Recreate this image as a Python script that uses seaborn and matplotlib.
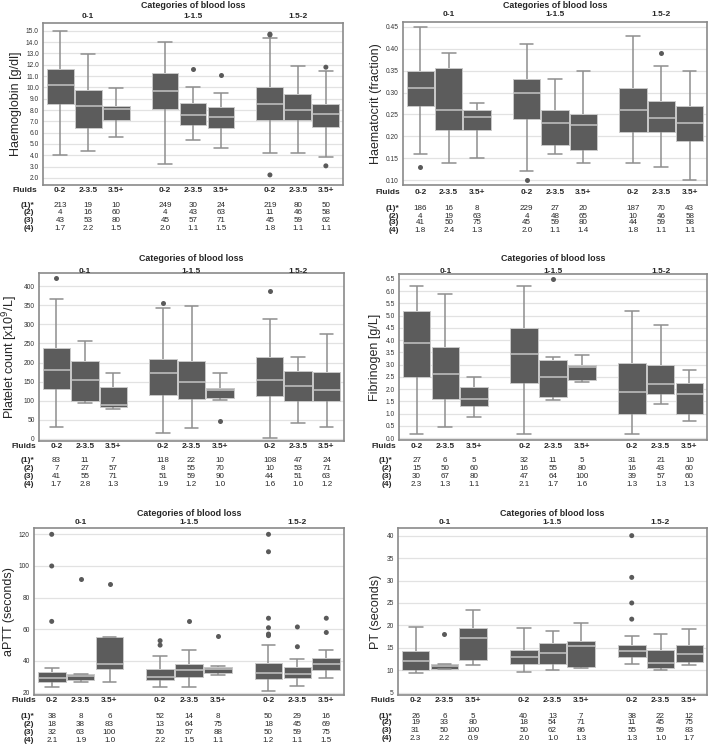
import numpy as np
import pandas as pd
import matplotlib
matplotlib.use("Agg")
import matplotlib.pyplot as plt
import matplotlib.transforms as mtransforms
import seaborn as sns

loss_cats = ["0-1", "1-1.5", "1.5-2"]
fluid_cats = ["0-2", "2-3.5", "3.5+"]
row_labels = ["(1)*", "(2)", "(3)", "(4)"]

# Haemoglobin
hb_low = [4.0, 4.36, 5.64, 3.21, 5.34, 4.63, 4.19, 4.19, 3.89]
hb_q1 = [8.56, 6.43, 7.1, 8.06, 6.67, 6.43, 7.1, 7.1, 6.46]
hb_med = [10.2, 8.38, 8.12, 9.68, 7.58, 7.38, 8.53, 8.0, 7.61]
hb_q3 = [11.6, 9.74, 8.35, 11.3, 8.62, 8.29, 10.0, 9.45, 8.56]
hb_high = [15.0, 12.9, 9.92, 14.0, 10.0, 9.53, 14.38, 11.9, 11.45]
hb_out = [[], [], [], [], [11.6], [11.13], [14.7, 14.62, 2.27], [], [11.78, 3.07]]
hb_table = [["213", "19", "10", "249", "30", "24", "219", "80", "50"],
            ["4", "16", "60", "4", "43", "63", "11", "46", "58"],
            ["43", "53", "80", "45", "57", "71", "45", "59", "62"],
            ["1.7", "2.2", "1.5", "2.0", "1.1", "1.5", "1.8", "1.1", "1.1"]]

# Haematocrit
hct_low = [0.16, 0.14, 0.15, 0.12, 0.16, 0.14, 0.14, 0.13, 0.10]
hct_q1 = [0.27, 0.215, 0.215, 0.24, 0.18, 0.17, 0.21, 0.21, 0.19]
hct_med = [0.311, 0.261, 0.244, 0.298, 0.23, 0.225, 0.261, 0.241, 0.23]
hct_q3 = [0.35, 0.355, 0.26, 0.33, 0.26, 0.25, 0.31, 0.28, 0.27]
hct_high = [0.45, 0.39, 0.275, 0.41, 0.33, 0.35, 0.43, 0.36, 0.35]
hct_out = [[0.13], [], [], [0.10], [], [], [], [0.39], []]
hct_table = [["186", "16", "8", "229", "27", "20", "187", "70", "43"],
             ["4", "19", "63", "4", "48", "65", "10", "46", "58"],
             ["41", "50", "75", "45", "59", "80", "44", "59", "58"],
             ["1.8", "2.4", "1.3", "2.0", "1.1", "1.4", "1.8", "1.1", "1.1"]]

# Platelet count
plt_low = [30, 93, 77, 14, 27, 101, 2, 40, 30]
plt_q1 = [130, 99, 84, 115, 105, 107, 111, 100, 99]
plt_med = [181, 153, 88, 173, 148, 127, 153, 138, 129]
plt_q3 = [239, 205, 135, 209, 205, 134, 214, 177, 175]
plt_high = [366, 256, 173, 343, 348, 172, 313, 214, 274]
plt_out = [[421], [], [], [357], [], [46], [388], [], []]
plt_table = [["83", "11", "7", "118", "22", "10", "108", "47", "24"],
             ["7", "27", "57", "8", "55", "70", "10", "53", "71"],
             ["41", "55", "71", "51", "59", "90", "44", "51", "63"],
             ["1.7", "2.8", "1.3", "1.9", "1.2", "1.0", "1.6", "1.0", "1.2"]]

# Fibrinogen
fib_low = [0.18, 0.44, 0.84, 0.18, 1.57, 2.3, 0.18, 1.4, 0.7]
fib_q1 = [2.5, 1.59, 1.29, 2.24, 1.68, 2.37, 1.0, 1.79, 1.0]
fib_med = [3.88, 2.6, 1.6, 3.44, 2.5, 2.9, 1.9, 2.19, 1.8]
fib_q3 = [5.2, 3.7, 2.1, 4.5, 3.2, 3.0, 3.06, 3.0, 2.25]
fib_high = [6.2, 5.9, 2.5, 6.2, 3.3, 3.4, 5.2, 4.62, 2.79]
fib_out = [[], [], [], [], [6.5], [], [], [], []]
fib_table = [["27", "6", "5", "32", "11", "5", "31", "21", "10"],
             ["15", "50", "60", "16", "55", "80", "16", "43", "60"],
             ["30", "67", "80", "47", "64", "100", "39", "57", "60"],
             ["2.3", "1.3", "1.1", "2.1", "1.7", "1.6", "1.3", "1.3", "1.3"]]

# aPTT
aptt_low = [23.5, 27, 27, 23.8, 23.8, 31, 21, 24.5, 29.5]
aptt_q1 = [26.7, 27.8, 35, 27.7, 30, 32.3, 28.7, 29, 34.5]
aptt_med = [29, 30.6, 38.3, 30, 34.5, 35, 32.5, 32, 38]
aptt_q3 = [33, 31.8, 55, 35, 38, 36.5, 39, 36, 42]
aptt_high = [35.8, 32, 55, 43, 47, 37, 50, 41, 47]
aptt_out = [[120, 100, 65], [91.5], [88.5], [52.8, 50], [65], [56],
            [120, 109, 67, 61, 57, 56], [61.5, 49], [67, 58]]
aptt_table = [["38", "8", "6", "52", "14", "8", "50", "29", "16"],
              ["18", "38", "83", "13", "64", "75", "18", "45", "69"],
              ["32", "63", "100", "50", "57", "88", "50", "59", "75"],
              ["2.1", "1.9", "1.0", "2.2", "1.5", "1.1", "1.2", "1.1", "1.5"]]

# PT
pt_low = [9.3, 10.2, 11.1, 9.7, 10.0, 10.5, 11.5, 10.1, 11.1]
pt_q1 = [10.1, 10.4, 12.4, 11.3, 11.5, 10.7, 13.0, 10.5, 11.8]
pt_med = [12.1, 10.9, 17.3, 13.0, 13.9, 15.5, 14.3, 11.6, 13.7]
pt_q3 = [14.4, 11.3, 19.4, 14.6, 16.0, 16.6, 15.7, 14.5, 15.7]
pt_high = [19.6, 11.4, 23.4, 19.4, 18.8, 20.6, 17.7, 18.0, 19.3]
pt_out = [[], [18.0], [], [], [], [], [40.0, 30.7, 25.0, 21.4], [], []]
pt_table = [["26", "6", "5", "40", "13", "7", "38", "22", "12"],
            ["19", "33", "80", "18", "54", "71", "11", "45", "75"],
            ["31", "50", "100", "50", "62", "86", "55", "59", "83"],
            ["2.3", "2.2", "0.9", "2.0", "1.0", "1.3", "1.3", "1.0", "1.7"]]

W, H = 709, 747
BOX = "#5c5c5c"
WHISK = "#8e8e8e"
MED = "#c4c4c4"
DOT = "#5a5a5a"

sns.set_style("white")
plt.rcParams["font.family"] = ["Liberation Sans", "DejaVu Sans"]

fig = plt.figure(figsize=(W / 100, H / 100), dpi=100)


def fy(px):
    return 1 - px / H


def draw_panel(rect, low, q1, med, q3, high, outs, table, ylabel, ylim, yticks, fmt,
               title_y, group_y, fluid_y, rows_y, lab_x, fluid_x):
    l, t, r, b = rect
    ax = fig.add_axes([l / W, 1 - b / H, (r - l) / W, (b - t) / H])

    recs = []
    for i in range(9):
        for v in (low[i], q1[i], med[i], q3[i], high[i]):
            recs.append({"loss": loss_cats[i // 3], "fluid": fluid_cats[i % 3], "value": v})
    df = pd.DataFrame(recs)
    sns.boxplot(data=df, x="loss", y="value", hue="fluid", order=loss_cats,
                hue_order=fluid_cats, palette=[BOX] * 3, whis=(0, 100),
                showfliers=False, width=0.8, gap=0.04, linecolor=WHISK,
                linewidth=1.1, legend=False, ax=ax,
                medianprops=dict(color=MED, linewidth=1.1),
                boxprops=dict(edgecolor="#c8c8c8", linewidth=0.7))

    orecs = [{"loss": loss_cats[i // 3], "fluid": fluid_cats[i % 3], "value": v}
             for i in range(9) for v in outs[i]]
    sns.stripplot(data=pd.DataFrame(orecs), x="loss", y="value", hue="fluid",
                  order=loss_cats, hue_order=fluid_cats, dodge=True, jitter=False,
                  palette=[DOT] * 3, size=3.6, linewidth=0, legend=False, ax=ax,
                  zorder=4)

    ax.set_xlim(-0.43, 2.43)
    ax.set_ylim(*ylim)
    ax.set_yticks(yticks)
    ax.set_yticklabels([fmt.format(v) for v in yticks], fontsize=4.8, color="#333333")
    ax.tick_params(axis="y", length=2, width=0.6, color="#777777", pad=1)
    ax.set_xticks([])
    ax.set_xlabel("")
    ax.set_ylabel(ylabel, fontsize=9, labelpad=3)
    ax.yaxis.grid(True, color="#e2e2e2", linewidth=0.9)
    ax.set_axisbelow(True)
    for s in ax.spines.values():
        s.set_color("#8a8a8a")
        s.set_linewidth(1.2)

    bt = mtransforms.blended_transform_factory(ax.transAxes, fig.transFigure)
    dt = mtransforms.blended_transform_factory(ax.transData, fig.transFigure)
    ax.text(0.5, fy(title_y), "Categories of blood loss", transform=bt,
            ha="center", va="center", fontsize=6.4, fontweight="bold")
    for g, name in enumerate(loss_cats):
        ax.text(g, fy(group_y), name, transform=dt, ha="center", va="center",
                fontsize=6, fontweight="bold")
    fig.text(fluid_x / W, fy(fluid_y), "Fluids", ha="right", va="center",
             fontsize=6, fontweight="bold")
    for k, lab in enumerate(row_labels):
        fig.text(lab_x / W, fy(rows_y[k]), lab, ha="right", va="center",
                 fontsize=6, fontweight="bold")
    for i in range(9):
        x = i // 3 + (i % 3 - 1) * 0.8 / 3
        ax.text(x, fy(fluid_y), fluid_cats[i % 3], transform=dt, ha="center",
                va="center", fontsize=6, fontweight="bold")
        for k in range(4):
            ax.text(x, fy(rows_y[k]), table[k][i], transform=dt, ha="center",
                    va="center", fontsize=5.8)
    return ax


draw_panel((43, 23, 343, 185), hb_low, hb_q1, hb_med, hb_q3, hb_high, hb_out, hb_table,
           "Haemoglobin [g/dl]", (1.38, 15.68), np.arange(2, 15.5, 1.0), "{:.1f}",
           6, 17, 191, [205, 212, 220, 229], 34, 37)
draw_panel((403, 22, 707, 185), hct_low, hct_q1, hct_med, hct_q3, hct_high, hct_out,
           hct_table, "Haematocrit (fraction)", (0.089, 0.461),
           np.arange(0.10, 0.46, 0.05), "{:.2f}",
           5, 15, 193, [209, 216, 223, 231], 399, 400)
draw_panel((39, 273, 344, 441), plt_low, plt_q1, plt_med, plt_q3, plt_high, plt_out,
           plt_table, "Platelet count [x10$^9$/L]", (-6, 435),
           np.arange(0, 401, 50), "{:.0f}",
           258, 271, 447, [461, 469, 477, 485], 34, 36)
draw_panel((399, 274, 707, 440), fib_low, fib_q1, fib_med, fib_q3, fib_high, fib_out,
           fib_table, "Fibrinogen [g/L]", (-0.08, 6.7), np.arange(0, 6.6, 0.5), "{:.1f}",
           258, 271, 447, [461, 469, 477, 485], 392, 396)
draw_panel((34, 528, 344, 695), aptt_low, aptt_q1, aptt_med, aptt_q3, aptt_high, aptt_out,
           aptt_table, "aPTT (seconds)", (18.5, 124), np.arange(20, 121, 20), "{:.0f}",
           513, 523, 701, [717, 724, 732, 740], 34, 36)
draw_panel((398, 528, 707, 695), pt_low, pt_q1, pt_med, pt_q3, pt_high, pt_out,
           pt_table, "PT (seconds)", (4.5, 41.7), np.arange(5, 41, 5), "{:.0f}",
           513, 523, 701, [716, 723, 731, 738], 392, 395)

fig.savefig("out.png", dpi=100)
